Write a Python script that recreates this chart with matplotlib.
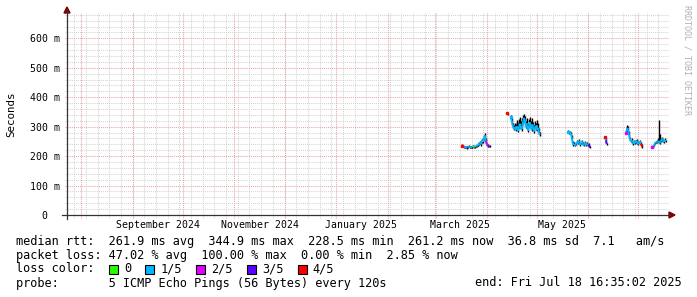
import matplotlib
matplotlib.use('Agg')
import matplotlib.pyplot as plt
import matplotlib.dates as mdates
import matplotlib.transforms as mtrans
from matplotlib.collections import LineCollection
from matplotlib.patches import Rectangle, Polygon
from matplotlib.lines import Line2D
import pandas as pd

# ---------------- data ----------------
time_start = '2024-07-23 16:35:02'
time_end = '2025-07-18 16:35:02'
sample_step = '12h'

loss_colors = ['#26ff00', '#00b8ff', '#dd00ff', '#5e00ff', '#ff0000']
loss_labels = ['0', '1/5', '2/5', '3/5', '4/5']

# segment A (mid March)
start_A = '2025-03-17 02:00'
med_A = [234, 236, 233, 231, 229, 232, 230, 228, 231, 233, 230, 229, 232, 231, 234, 230, 232, 235,
         233, 238, 236, 242, 246, 240, 250, 255, 248, 262, 270, 252, 240, 236, 233, 234, 233]
loss_A = [4, 4, 2, 1, 1, 1, 1, 1, 2, 1, 1, 1, 1, 1, 0, 0, 1, 1, 1, 1, 1, 1, 1, 1, 1, 1, 1, 1, 1, 1,
          2, 2, 1, 3, 2]
hi_A = [238, 240, 237, 235, 233, 236, 234, 232, 235, 237, 234, 233, 236, 235, 238, 234, 236, 239,
        237, 243, 241, 248, 252, 246, 258, 262, 256, 272, 278, 262, 246, 240, 237, 238, 237]
lo_A = [231, 233, 230, 228, 226, 229, 227, 225, 228, 230, 227, 226, 229, 228, 231, 227, 229, 232,
        230, 235, 233, 238, 242, 236, 245, 250, 243, 255, 262, 246, 236, 233, 230, 231, 230]

# isolated point (mid April)
start_B0 = '2025-04-13 02:00'
med_B0 = [346, 344]
loss_B0 = [4, 4]
hi_B0 = [348, 347]
lo_B0 = [343, 341]

# segment B (second half of April)
start_B = '2025-04-15 11:00'
med_B = [334, 322, 310, 300, 292, 298, 288, 302, 294, 285, 300, 310, 296, 290, 305, 318, 330, 322,
         300, 312, 295, 286, 304, 315, 298, 290, 308, 296, 284, 300, 292, 305, 288, 296, 280, 272]
loss_B = [1, 1, 1, 1, 1, 1, 1, 1, 1, 1, 1, 1, 1, 1, 1, 1, 1, 1, 1, 1, 1, 1, 1, 1, 1, 1, 1, 1, 1, 1,
          1, 1, 1, 1, 1, 1]
hi_B = [340, 330, 320, 312, 306, 314, 310, 322, 316, 312, 326, 332, 318, 312, 328, 338, 343, 336,
        320, 330, 314, 308, 326, 334, 318, 312, 328, 316, 304, 320, 312, 324, 306, 314, 296, 282]
lo_B = [330, 318, 306, 296, 288, 294, 284, 298, 290, 281, 296, 306, 292, 286, 301, 314, 326, 318,
        296, 308, 291, 282, 300, 311, 294, 286, 304, 292, 280, 296, 288, 301, 284, 292, 276, 268]

# segment C (late May)
start_C = '2025-05-19 14:00'
med_C = [283, 280, 279, 281, 276, 262, 244, 238, 242, 236, 240, 248, 243, 252, 246, 238, 244, 250,
         242, 236, 240, 246, 238, 242, 236, 240, 234, 231]
loss_C = [1, 1, 0, 0, 1, 1, 1, 1, 1, 1, 1, 1, 1, 1, 1, 1, 1, 1, 1, 1, 1, 1, 1, 1, 1, 1, 3, 3]
hi_C = [290, 286, 284, 285, 282, 270, 250, 243, 247, 241, 245, 256, 249, 258, 252, 243, 249, 256,
        248, 241, 245, 252, 243, 247, 241, 245, 238, 234]
lo_C = [280, 277, 276, 278, 273, 259, 241, 235, 239, 233, 237, 245, 240, 249, 243, 235, 241, 247,
        239, 233, 237, 243, 235, 239, 233, 237, 231, 228]

# segment D (June)
start_D = '2025-06-11 00:00'
med_D = [266, 252, 241]
loss_D = [4, 1, 3]
hi_D = [268, 262, 245]
lo_D = [262, 248, 238]

# segment E (late June)
start_E = '2025-06-23 09:00'
med_E = [279, 284, 296, 290, 272, 258, 250, 254, 246, 242, 250, 244, 248, 252, 245, 240, 246, 250,
         242, 236, 230]
loss_E = [2, 1, 1, 1, 1, 1, 1, 1, 1, 1, 1, 1, 1, 1, 1, 1, 1, 1, 1, 4, 4]
hi_E = [284, 300, 306, 302, 285, 266, 256, 260, 252, 248, 256, 250, 254, 258, 251, 246, 252, 256,
        248, 240, 233]
lo_E = [276, 281, 293, 287, 269, 255, 247, 251, 243, 239, 247, 241, 245, 249, 242, 237, 243, 247,
        239, 233, 227]

# segment F (July)
start_F = '2025-07-08 21:00'
med_F = [232, 233, 232, 236, 244, 248, 246, 250, 252, 248, 244, 250, 256, 260, 252, 248, 254, 250]
loss_F = [2, 2, 3, 1, 1, 1, 1, 1, 1, 1, 1, 1, 1, 1, 1, 1, 1, 1]
hi_F = [235, 236, 235, 240, 249, 253, 252, 256, 262, 322, 275, 258, 262, 265, 258, 254, 260, 255]
lo_F = [229, 230, 229, 233, 241, 245, 243, 247, 249, 245, 241, 247, 253, 257, 249, 245, 251, 247]

segments = [
    (start_A, med_A, loss_A, hi_A, lo_A),
    (start_B0, med_B0, loss_B0, hi_B0, lo_B0),
    (start_B, med_B, loss_B, hi_B, lo_B),
    (start_C, med_C, loss_C, hi_C, lo_C),
    (start_D, med_D, loss_D, hi_D, lo_D),
    (start_E, med_E, loss_E, hi_E, lo_E),
    (start_F, med_F, loss_F, hi_F, lo_F),
]

y_max = 0.686
y_ticks = [0.0, 0.1, 0.2, 0.3, 0.4, 0.5, 0.6]
y_tick_labels = ['  0', '100 m', '200 m', '300 m', '400 m', '500 m', '600 m']
x_label_dates = ['2024-09-16', '2024-11-16', '2025-01-16', '2025-03-16', '2025-05-16']
x_labels = ['September 2024', 'November 2024', 'January 2025', 'March 2025', 'May 2025']

median_items = ['median rtt:', '261.9 ms avg', '344.9 ms max', '228.5 ms min', '261.2 ms now',
                '36.8 ms sd', '7.1   am/s']
loss_items = ['packet loss:', '47.02 % avg', '100.00 % max', '0.00 % min', '2.85 % now']
probe_text = 'probe:       5 ICMP Echo Pings (56 Bytes) every 120s'
end_text = 'end: Fri Jul 18 16:35:02 2025'
loss_row_label = 'loss color:  '

# ---------------- figure ----------------
W, H = 697, 297
MONO = 'DejaVu Sans Mono'
LEG_FS = 8.55
fig = plt.figure(figsize=(W / 100, H / 100), dpi=100)
fig.patch.set_facecolor('white')
L, R, T, B = 67, 668, 13, 215
ax = fig.add_axes([L / W, 1 - B / H, (R - L) / W, (B - T) / H])
px = mtrans.Affine2D().scale(1 / W, -1 / H).translate(0, 1) + fig.transFigure

t0 = pd.Timestamp(time_start)
t1 = pd.Timestamp(time_end)
ax.set_xlim(mdates.date2num(t0), mdates.date2num(t1))
ax.set_ylim(0, y_max)
for s in ax.spines.values():
    s.set_visible(False)
ax.set_facecolor('white')

minor_c = '#d4d4d4'
major_c = '#eba3a3'
dot = (0, (1, 1))
ext_y = -3 / (B - T)
ext_x = -2 / (R - L)
for d in pd.date_range(t0.normalize(), t1, freq='W-SUN'):
    if d > t0:
        ax.axvline(mdates.date2num(d), ymin=ext_y, ymax=1, color=minor_c, lw=0.75, ls=dot,
                   zorder=0, clip_on=False)
for d in pd.date_range(t0.normalize(), t1, freq='MS'):
    if d > t0:
        ax.axvline(mdates.date2num(d), ymin=ext_y, ymax=1, color=major_c, lw=0.75, ls=dot,
                   zorder=0.5, clip_on=False)
for k in range(1, 35):
    v = k * 0.02
    if v < y_max and k % 5 != 0:
        ax.axhline(v, xmin=ext_x, xmax=1, color=minor_c, lw=0.75, ls=dot, zorder=0, clip_on=False)
for v in y_ticks[1:]:
    ax.axhline(v, xmin=ext_x, xmax=1, color=major_c, lw=0.75, ls=dot, zorder=0.5, clip_on=False)

# data
for start, med, loss, hi, lo in segments:
    times = pd.date_range(pd.Timestamp(start), periods=len(med), freq=sample_step)
    xs = mdates.date2num(times)
    ys = [m / 1000 for m in med]
    ax.vlines(xs, [v / 1000 for v in lo], [v / 1000 for v in hi], color='black', lw=1.0, zorder=2)
    segs = []
    cols = []
    for i in range(len(xs) - 1):
        segs.append([(xs[i], ys[i]), (xs[i + 1], ys[i + 1])])
        cols.append(loss_colors[loss[i + 1]])
    lc = LineCollection(segs, colors=cols, linewidths=1.4, zorder=3, capstyle='butt')
    ax.add_collection(lc)
    ax.plot(xs[:1], ys[:1], marker='s', ms=1.4, color=loss_colors[loss[0]], lw=0, zorder=3)

# ticks / labels
ax.set_yticks(y_ticks)
ax.set_yticklabels(y_tick_labels, family=MONO, fontsize=7.1)
for lab in ax.get_yticklabels():
    lab.set_horizontalalignment('left')
ax.tick_params(axis='y', length=0, pad=26.5)
ax.set_xticks(mdates.date2num(pd.to_datetime(x_label_dates)))
ax.set_xticklabels(x_labels, family=MONO, fontsize=7.1)
ax.tick_params(axis='x', length=0, pad=3.6)

# axes lines and arrows
axis_c = '#333333'
arrow_c = '#7f0000'
fig.add_artist(Line2D([62, 670], [B, B], color=axis_c, lw=0.9, transform=px))
fig.add_artist(Line2D([L, L], [219, 10], color=axis_c, lw=0.9, transform=px))
fig.add_artist(Polygon([[669, 212], [669, 218], [675, 215]], closed=True, color=arrow_c, transform=px))
fig.add_artist(Polygon([[64, 13], [70, 13], [67, 7]], closed=True, color=arrow_c, transform=px))

fig.text(11, 114, 'Seconds', transform=px, rotation=90, ha='center', va='center',
         family=MONO, fontsize=7.8)
fig.text(687, 5, 'RRDTOOL / TOBI OETIKER', transform=px, rotation=-90, ha='center', va='top',
         family=MONO, fontsize=6, color='#b0b0b0')

# legend
def leg(x, y, s, ha='left'):
    fig.text(x, y, s, transform=px, ha=ha, va='center', family=MONO, fontsize=LEG_FS)

leg(16, 241, median_items[0] + '  ' + '  '.join(median_items[1:]))
leg(16, 255, loss_items[0] + ' ' + '  '.join(loss_items[1:]))
leg(16, 283, probe_text)
leg(682, 283, end_text, ha='right')

char_w = 7.15
leg(16, 269, loss_row_label)
cx = 16 + len(loss_row_label) * char_w
for col, lab in zip(loss_colors, loss_labels):
    fig.add_artist(Rectangle((cx, 264.5), 9, 9, facecolor=col, edgecolor='black', lw=0.8,
                             transform=px))
    leg(cx + 15, 269, lab)
    cx += 15 + (len(lab) + 2) * char_w

fig.savefig('out.png', dpi=100, facecolor='white')
